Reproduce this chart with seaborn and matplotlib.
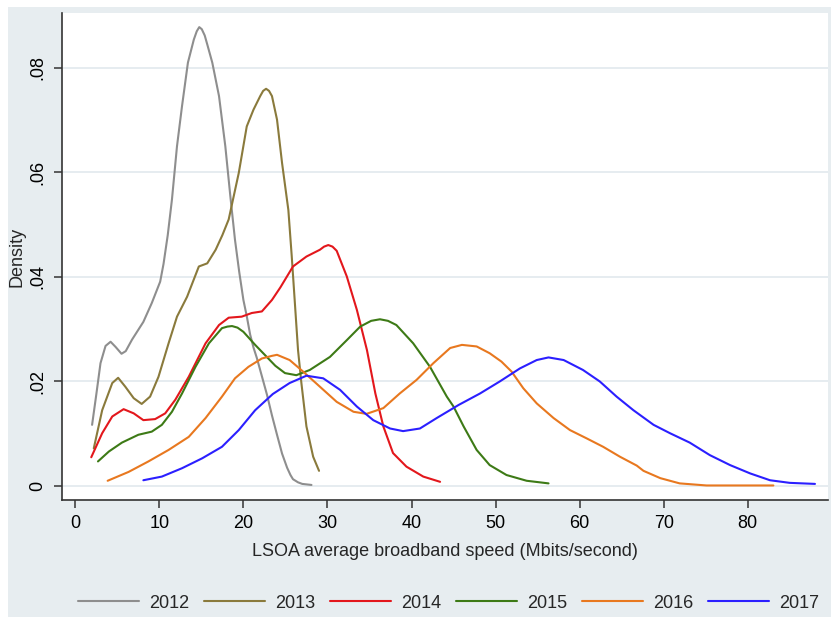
import matplotlib
matplotlib.use("Agg")
import matplotlib.pyplot as plt
from matplotlib.patches import Rectangle
from matplotlib.lines import Line2D
import seaborn as sns
import pandas as pd

years = ["2012", "2013", "2014", "2015", "2016", "2017"]
colors = ["#8e8e8e", "#8a7a3c", "#e3171c", "#3d7a16", "#e8781f", "#2b1fff"]

speed_2012 = [2.0, 2.5, 3.0, 3.6, 4.2, 4.8, 5.5, 6.0, 6.75, 8.1, 9.1, 10.1, 10.5, 11.0, 11.5, 12.1,
              12.7, 13.4, 14.1, 14.45, 14.75, 15.05, 15.4, 15.7, 16.3, 17.1, 17.85, 18.45, 19.0, 19.5,
              20.0, 20.4, 20.8, 21.2, 21.6, 22.2, 22.8, 23.4, 24.0, 24.6, 25.2, 25.6, 25.9, 26.5,
              27.0, 28.1]
dens_2012 = [.0117, .0175, .0235, .0268, .0276, .0266, .0253, .0258, .0280, .0314, .0350, .0391, .0425,
             .0480, .0548, .0650, .0727, .0810, .0854, .0870, .0878, .0874, .0862, .0845, .0810, .0746,
             .0650, .0554, .0471, .0410, .0356, .0325, .0290, .0265, .0245, .0210, .0175, .0135, .0098,
             .0062, .0035, .0021, .0013, .0007, .0004, .0002]

speed_2013 = [2.2, 3.2, 4.4, 5.1, 5.95, 6.95, 7.9, 8.9, 9.9, 11.1, 12.1, 13.3, 14.7, 15.7, 16.7, 17.5,
              18.25, 19.45, 20.4, 21.2, 22.0, 22.35, 22.7, 23.05, 23.4, 24.0, 24.6, 25.35, 25.75, 26.1,
              26.5, 26.9, 27.5, 28.3, 29.0]
dens_2013 = [.0072, .0145, .0197, .0207, .0190, .0168, .0157, .0171, .0209, .0273, .0324, .0362, .0420,
             .0426, .0452, .0480, .0510, .0599, .0688, .0720, .0746, .0756, .0760, .0756, .0746, .0701,
             .0618, .0528, .0440, .0356, .0260, .0197, .0114, .0056, .0029]

speed_2014 = [1.9, 3.2, 4.4, 5.75, 6.95, 8.1, 9.5, 10.7, 11.9, 13.5, 15.5, 17.1, 18.25, 19.8, 21.0,
              22.2, 23.4, 24.4, 25.9, 27.5, 29.1, 29.6, 30.1, 30.6, 31.1, 32.3, 33.5, 34.7, 35.7, 36.65,
              37.8, 39.4, 41.4, 43.4]
dens_2014 = [.0055, .0101, .0133, .0147, .0139, .0126, .0128, .0139, .0165, .0209, .0273, .0308, .0322,
             .0324, .0331, .0334, .0356, .0380, .0420, .0439, .0452, .0458, .0461, .0458, .0450, .0401,
             .0337, .0260, .0177, .0114, .0063, .0037, .0018, .0008]

speed_2015 = [2.7, 4.0, 5.55, 7.5, 9.1, 10.3, 11.5, 12.7, 14.3, 15.9, 17.45, 18.1, 18.65, 19.3, 20.0,
              21.4, 22.6, 23.8, 24.95, 26.3, 27.9, 30.3, 32.3, 33.9, 35.2, 36.25, 37.2, 38.2, 40.2,
              42.2, 44.2, 45.0, 46.2, 47.75, 49.3, 51.3, 53.7, 56.3]
dens_2015 = [.0047, .0066, .0083, .0098, .0104, .0117, .0142, .0177, .0228, .0273, .0302, .0305, .0306,
             .0303, .0295, .0270, .0250, .0230, .0216, .0212, .0222, .0247, .0279, .0305, .0316, .0319,
             .0316, .0308, .0273, .0228, .0171, .0152, .0114, .0069, .0040, .0021, .0010, .0005]

speed_2016 = [3.85, 6.35, 8.7, 11.1, 13.5, 15.5, 17.45, 19.0, 20.6, 22.2, 23.4, 24.0, 25.5, 27.1, 29.1,
              31.1, 33.1, 34.65, 36.65, 38.6, 40.6, 42.6, 44.6, 46.0, 47.75, 49.3, 50.7, 51.9, 53.3,
              54.9, 56.9, 58.85, 60.85, 62.8, 64.8, 66.8, 67.6, 69.6, 71.9, 75.1, 83.05]
dens_2016 = [.0010, .0027, .0047, .0069, .0094, .0130, .0171, .0206, .0228, .0244, .0249, .0251, .0241,
             .0219, .0190, .0161, .0142, .0138, .0149, .0177, .0203, .0235, .0264, .0270, .0267, .0254,
             .0238, .0219, .0187, .0158, .0130, .0107, .0091, .0075, .0056, .0039, .0029, .0015, .0005,
             .0001, .0001]

speed_2017 = [8.1, 10.3, 12.7, 15.1, 17.45, 19.45, 21.4, 23.5, 25.5, 27.5, 29.5, 31.5, 33.5, 35.45,
              37.45, 39.0, 41.0, 43.0, 45.6, 48.15, 50.5, 52.9, 54.9, 56.3, 58.1, 60.4, 62.4, 64.4,
              66.4, 68.8, 70.75, 73.1, 75.5, 77.9, 80.3, 82.65, 85.0, 88.0]
dens_2017 = [.0011, .0018, .0034, .0053, .0075, .0107, .0145, .0176, .0197, .0211, .0206, .0184, .0152,
             .0126, .0110, .0105, .0110, .0130, .0155, .0177, .0200, .0225, .0241, .0246, .0241, .0222,
             .0200, .0171, .0145, .0117, .0101, .0083, .0059, .0040, .0024, .0011, .0006, .0004]

x_ticks = [0, 10, 20, 30, 40, 50, 60, 70, 80]
y_ticks = [0, 0.02, 0.04, 0.06, 0.08]
y_tick_labels = ["0", ".02", ".04", ".06", ".08"]
x_label = "LSOA average broadband speed (Mbits/second)"
y_label = "Density"

speeds = [speed_2012, speed_2013, speed_2014, speed_2015, speed_2016, speed_2017]
denss = [dens_2012, dens_2013, dens_2014, dens_2015, dens_2016, dens_2017]
frames = []
for yr, sx, dy in zip(years, speeds, denss):
    frames.append(pd.DataFrame({"speed": sx, "density": dy, "year": yr}))
df = pd.concat(frames, ignore_index=True)

sns.set_style("white")
plt.rcParams["font.family"] = ["Liberation Sans", "DejaVu Sans"]

W, H = 831, 617
fig = plt.figure(figsize=(W / 100, H / 100), dpi=100, facecolor="white")
bg = "#e7edf0"
fig.patches.append(Rectangle((8 / W, 0), 1 - 8 / W, 1 - 7 / H, transform=fig.transFigure,
                             facecolor=bg, edgecolor="none", zorder=-10))

ax = fig.add_axes([62 / W, 1 - 500 / H, (828 - 62) / W, (500 - 13) / H])
ax.set_facecolor("white")

sns.lineplot(data=df, x="speed", y="density", hue="year", palette=dict(zip(years, colors)),
             sort=False, estimator=None, linewidth=1.5, legend=False, ax=ax)
for ln in ax.lines:
    ln.set_solid_joinstyle("round")
    ln.set_solid_capstyle("round")

ax.set_xlim(-1.58, 89.55)
ax.set_ylim(-0.00268, 0.0905)
ax.set_xticks(x_ticks)
ax.set_yticks(y_ticks)
ax.set_yticklabels(y_tick_labels, rotation=90, va="center")
ax.tick_params(axis="both", labelsize=13, length=6, width=1.1, color="#333333",
               direction="out", pad=5, labelcolor="black")
ax.tick_params(axis="x", bottom=True)
ax.tick_params(axis="y", left=True)
ax.yaxis.grid(True, color="#e4ebef", linewidth=1.3)
ax.xaxis.grid(False)
ax.set_axisbelow(True)
for s in ["top", "right"]:
    ax.spines[s].set_visible(False)
for s in ["left", "bottom"]:
    ax.spines[s].set_color("#333333")
    ax.spines[s].set_linewidth(1.2)
ax.set_xlabel(x_label, fontsize=13, labelpad=8)
ax.set_ylabel(y_label, fontsize=13, labelpad=3)

handles = [Line2D([0], [0], color=c, lw=1.5) for c in colors]
fig.legend(handles, years, loc="center", bbox_to_anchor=(448.5 / W, 1 - 603 / H), ncol=6,
           frameon=False, fontsize=13, handlelength=3.4, handletextpad=0.55, columnspacing=0.8)

fig.savefig("out.png", dpi=100, facecolor=fig.get_facecolor())
